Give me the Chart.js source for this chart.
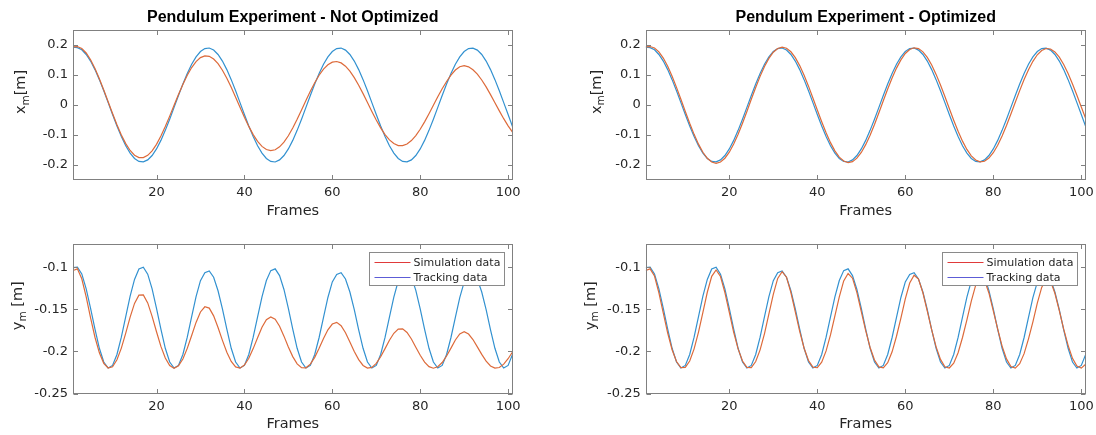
<!DOCTYPE html>
<html>
<head>
<meta charset="utf-8">
<script src="https://cdn.jsdelivr.net/npm/chart.js@4/dist/chart.umd.min.js"></script>
<style>
  html, body { margin: 0; padding: 0; background: #fff; }
  #fig { position: relative; width: 1096px; height: 435px; overflow: hidden; background: #fff; }
  #fig canvas { position: absolute; }
</style>
</head>
<body>
<div id="fig">
  <canvas id="xNotOpt" width="548" height="218" style="left:0;top:0"></canvas>
  <canvas id="xOpt" width="600" height="218" style="left:548px;top:0"></canvas>
  <canvas id="yNotOpt" width="548" height="217" style="left:0;top:218px"></canvas>
  <canvas id="yOpt" width="600" height="217" style="left:548px;top:218px"></canvas>
</div>
<script>
// Frame index 1..101
const frames = Array.from({ length: 101 }, (_, i) => i + 1);

// Tick positions and labels
const frameTicks = [20, 40, 60, 80, 100];
const xPosTicks = [-0.2, -0.1, 0, 0.1, 0.2];
const xPosTickLabels = ['-0.2', '-0.1', '0', '0.1', '0.2'];
const yPosTicks = [-0.25, -0.2, -0.15, -0.1];
const yPosTickLabels = ['-0.25', '-0.2', '-0.15', '-0.1'];

// Tracking data (measured pendulum position) [m]
const trackingX = [
  0.1930, 0.1910, 0.1840, 0.1684, 0.1464, 0.1180, 0.0845, 0.0473, 0.0080, -0.0317,
  -0.0699, -0.1051, -0.1358, -0.1604, -0.1781, -0.1880, -0.1896, -0.1830, -0.1684, -0.1464,
  -0.1180, -0.0845, -0.0473, -0.0080, 0.0317, 0.0699, 0.1051, 0.1358, 0.1604, 0.1781,
  0.1880, 0.1900, 0.1832, 0.1684, 0.1464, 0.1180, 0.0845, 0.0473, 0.0080, -0.0317,
  -0.0699, -0.1051, -0.1358, -0.1604, -0.1781, -0.1882, -0.1900, -0.1830, -0.1684, -0.1464,
  -0.1180, -0.0845, -0.0473, -0.0080, 0.0317, 0.0699, 0.1051, 0.1358, 0.1604, 0.1781,
  0.1880, 0.1898, 0.1830, 0.1684, 0.1464, 0.1180, 0.0845, 0.0473, 0.0080, -0.0317,
  -0.0699, -0.1051, -0.1358, -0.1604, -0.1781, -0.1880, -0.1896, -0.1830, -0.1684, -0.1464,
  -0.1180, -0.0845, -0.0473, -0.0080, 0.0317, 0.0699, 0.1051, 0.1358, 0.1604, 0.1781,
  0.1880, 0.1896, 0.1830, 0.1684, 0.1464, 0.1180, 0.0845, 0.0473, 0.0080, -0.0317,
  -0.0720
];
const trackingY = [
  -0.1005, -0.1000, -0.1080, -0.1258, -0.1488, -0.1737, -0.1963, -0.2126, -0.2198, -0.2167,
  -0.2037, -0.1832, -0.1587, -0.1345, -0.1146, -0.1022, -0.1000, -0.1083, -0.1258, -0.1488,
  -0.1737, -0.1963, -0.2126, -0.2198, -0.2167, -0.2037, -0.1832, -0.1587, -0.1350, -0.1160,
  -0.1066, -0.1045, -0.1120, -0.1280, -0.1495, -0.1737, -0.1963, -0.2126, -0.2198, -0.2167,
  -0.2037, -0.1832, -0.1590, -0.1352, -0.1158, -0.1041, -0.1020, -0.1100, -0.1265, -0.1490,
  -0.1737, -0.1963, -0.2126, -0.2198, -0.2167, -0.2037, -0.1835, -0.1595, -0.1360, -0.1175,
  -0.1086, -0.1065, -0.1140, -0.1295, -0.1505, -0.1745, -0.1963, -0.2126, -0.2198, -0.2167,
  -0.2037, -0.1834, -0.1592, -0.1355, -0.1165, -0.1056, -0.1035, -0.1115, -0.1275, -0.1495,
  -0.1740, -0.1963, -0.2126, -0.2198, -0.2167, -0.2037, -0.1835, -0.1597, -0.1362, -0.1178,
  -0.1086, -0.1065, -0.1140, -0.1295, -0.1505, -0.1745, -0.1963, -0.2126, -0.2198, -0.2167,
  -0.2037
];

// Simulation with initial parameters [m]
const simXNotOpt = [
  0.1935, 0.1949, 0.1883, 0.1734, 0.1509, 0.1218, 0.0878, 0.0502, 0.0109, -0.0284,
  -0.0658, -0.0998, -0.1287, -0.1516, -0.1672, -0.1751, -0.1752, -0.1677, -0.1527, -0.1311,
  -0.1036, -0.0718, -0.0371, -0.0009, 0.0349, 0.0687, 0.0992, 0.1249, 0.1448, 0.1579,
  0.1637, 0.1622, 0.1533, 0.1377, 0.1160, 0.0893, 0.0589, 0.0261, -0.0076, -0.0405,
  -0.0713, -0.0986, -0.1211, -0.1379, -0.1484, -0.1520, -0.1491, -0.1395, -0.1238, -0.1024,
  -0.0767, -0.0476, -0.0166, 0.0150, 0.0457, 0.0741, 0.0991, 0.1194, 0.1341, 0.1427,
  0.1449, 0.1403, 0.1295, 0.1130, 0.0914, 0.0661, 0.0379, 0.0082, -0.0215, -0.0501,
  -0.0761, -0.0985, -0.1163, -0.1286, -0.1351, -0.1355, -0.1299, -0.1186, -0.1019, -0.0808,
  -0.0561, -0.0290, -0.0007, 0.0274, 0.0542, 0.0784, 0.0997, 0.1166, 0.1275, 0.1311,
  0.1273, 0.1176, 0.1027, 0.0834, 0.0603, 0.0347, 0.0077, -0.0195, -0.0456, -0.0695,
  -0.0901
];
const simYNotOpt = [
  -0.1040, -0.1020, -0.1138, -0.1354, -0.1601, -0.1832, -0.2017, -0.2142, -0.2197, -0.2182,
  -0.2099, -0.1961, -0.1784, -0.1594, -0.1430, -0.1332, -0.1330, -0.1424, -0.1584, -0.1767,
  -0.1941, -0.2079, -0.2168, -0.2200, -0.2172, -0.2090, -0.1964, -0.1811, -0.1656, -0.1532,
  -0.1470, -0.1486, -0.1578, -0.1716, -0.1869, -0.2011, -0.2120, -0.2184, -0.2199, -0.2162,
  -0.2081, -0.1967, -0.1837, -0.1714, -0.1624, -0.1591, -0.1618, -0.1701, -0.1819, -0.1947,
  -0.2062, -0.2148, -0.2194, -0.2195, -0.2152, -0.2071, -0.1964, -0.1848, -0.1744, -0.1675,
  -0.1655, -0.1695, -0.1778, -0.1888, -0.2001, -0.2098, -0.2167, -0.2198, -0.2190, -0.2142,
  -0.2064, -0.1967, -0.1867, -0.1785, -0.1736, -0.1733, -0.1776, -0.1853, -0.1950, -0.2046,
  -0.2127, -0.2181, -0.2200, -0.2183, -0.2132, -0.2055, -0.1961, -0.1865, -0.1793, -0.1767,
  -0.1794, -0.1859, -0.1946, -0.2036, -0.2116, -0.2173, -0.2199, -0.2191, -0.2152, -0.2087,
  -0.2007
];

// Simulation with optimized parameters [m]
const simXOpt = [
  0.1935, 0.1949, 0.1902, 0.1771, 0.1564, 0.1290, 0.0959, 0.0588, 0.0191, -0.0215,
  -0.0610, -0.0979, -0.1305, -0.1575, -0.1776, -0.1900, -0.1942, -0.1899, -0.1774, -0.1573,
  -0.1303, -0.0977, -0.0608, -0.0214, 0.0190, 0.0585, 0.0954, 0.1282, 0.1555, 0.1758,
  0.1885, 0.1931, 0.1894, 0.1774, 0.1578, 0.1313, 0.0992, 0.0628, 0.0236, -0.0165,
  -0.0558, -0.0926, -0.1255, -0.1529, -0.1736, -0.1868, -0.1919, -0.1887, -0.1773, -0.1581,
  -0.1322, -0.1007, -0.0647, -0.0259, 0.0139, 0.0532, 0.0901, 0.1230, 0.1505, 0.1716,
  0.1852, 0.1907, 0.1881, 0.1772, 0.1587, 0.1333, 0.1021, 0.0666, 0.0281, -0.0114,
  -0.0506, -0.0874, -0.1205, -0.1481, -0.1695, -0.1835, -0.1895, -0.1874, -0.1770, -0.1590,
  -0.1341, -0.1034, -0.0684, -0.0303, 0.0090, 0.0480, 0.0848, 0.1178, 0.1457, 0.1674,
  0.1818, 0.1883, 0.1866, 0.1768, 0.1594, 0.1350, 0.1049, 0.0702, 0.0325, -0.0066,
  -0.0453
];
const simYOpt = [
  -0.1040, -0.1020, -0.1105, -0.1305, -0.1547, -0.1782, -0.1980, -0.2120, -0.2192, -0.2190,
  -0.2114, -0.1970, -0.1771, -0.1536, -0.1298, -0.1109, -0.1034, -0.1111, -0.1301, -0.1538,
  -0.1773, -0.1971, -0.2114, -0.2190, -0.2192, -0.2121, -0.1982, -0.1788, -0.1556, -0.1324,
  -0.1134, -0.1054, -0.1119, -0.1301, -0.1530, -0.1763, -0.1963, -0.2108, -0.2187, -0.2194,
  -0.2128, -0.1994, -0.1804, -0.1577, -0.1352, -0.1163, -0.1076, -0.1131, -0.1302, -0.1529,
  -0.1754, -0.1954, -0.2102, -0.2184, -0.2195, -0.2134, -0.2005, -0.1820, -0.1605, -0.1377,
  -0.1188, -0.1096, -0.1142, -0.1304, -0.1523, -0.1744, -0.1946, -0.2095, -0.2182, -0.2197,
  -0.2140, -0.2016, -0.1835, -0.1627, -0.1403, -0.1214, -0.1117, -0.1153, -0.1306, -0.1520,
  -0.1736, -0.1937, -0.2089, -0.2179, -0.2198, -0.2146, -0.2027, -0.1851, -0.1649, -0.1428,
  -0.1240, -0.1138, -0.1166, -0.1310, -0.1515, -0.1736, -0.1928, -0.2083, -0.2175, -0.2199,
  -0.2152
];

// Styling
const TITLE_FONT = '"Liberation Sans", Arial, Helvetica, sans-serif';
const FONT = '"DejaVu Sans", sans-serif';
const SIM_COLOR = '#dd6a3a';
const TRACK_COLOR = '#3291d0';
const SIM_KEY_COLOR = '#e03a3a';
const TRACK_KEY_COLOR = '#5c5cd6';
const AXIS_COLOR = '#808080';
const TEXT_COLOR = '#262626';

const pts = arr => arr.map((v, i) => ({ x: frames[i], y: v }));

// Axes box with inward ticks on all four sides, title, axis labels and legend
const decor = {
  id: 'decor',
  afterDraw(chart, args, o) {
    const { ctx, chartArea: a } = chart;
    const xs = chart.scales.x, ys = chart.scales.y;
    const L = Math.round(a.left) + 0.5, R = Math.round(a.right) - 0.5;
    const T = Math.round(a.top) + 0.5, B = Math.round(a.bottom) - 0.5;
    const cx = (a.left + a.right) / 2, cy = (a.top + a.bottom) / 2;
    ctx.save();

    if (o.legend) {
      ctx.font = `11px ${FONT}`;
      const entries = chart.data.datasets.map((d, i) => ({ text: d.label, color: o.legendColors[i] }));
      const tw = Math.max(...entries.map(e => ctx.measureText(e.text).width));
      const w = Math.round(44 + tw + 4), h = 33;
      const bx = Math.round(a.right - 8.5 - w) + 0.5, by = Math.round(a.top + 8) + 0.5;
      ctx.fillStyle = '#fff';
      ctx.fillRect(bx, by, w, h);
      ctx.strokeStyle = '#8a8a8a';
      ctx.lineWidth = 1;
      ctx.strokeRect(bx, by, w, h);
      entries.forEach((e, i) => {
        const ly = Math.round(by + 9 + i * 15.5) + 0.5;
        ctx.strokeStyle = e.color;
        ctx.beginPath(); ctx.moveTo(bx + 5, ly); ctx.lineTo(bx + 41, ly); ctx.stroke();
        ctx.fillStyle = TEXT_COLOR;
        ctx.textAlign = 'left'; ctx.textBaseline = 'middle';
        ctx.fillText(e.text, bx + 44, ly + 0.5);
      });
    }

    ctx.strokeStyle = AXIS_COLOR;
    ctx.lineWidth = 1;
    ctx.strokeRect(L, T, R - L, B - T);
    const tl = 4.5;
    ctx.beginPath();
    xs.ticks.forEach(t => {
      const px = Math.round(xs.getPixelForValue(t.value)) + 0.5;
      ctx.moveTo(px, B); ctx.lineTo(px, B - tl);
      ctx.moveTo(px, T); ctx.lineTo(px, T + tl);
    });
    ys.ticks.forEach(t => {
      const py = Math.round(ys.getPixelForValue(t.value)) + 0.5;
      ctx.moveTo(L, py); ctx.lineTo(L + tl, py);
      ctx.moveTo(R, py); ctx.lineTo(R - tl, py);
    });
    ctx.stroke();

    ctx.fillStyle = '#000';
    ctx.textAlign = 'center';
    ctx.textBaseline = 'middle';
    if (o.title) {
      ctx.font = `bold 16px ${TITLE_FONT}`;
      ctx.fillText(o.title, cx, a.top - 12);
    }
    ctx.fillStyle = TEXT_COLOR;
    ctx.font = `14.5px ${FONT}`;
    ctx.fillText('Frames', cx, a.bottom + 31);

    // y label with subscript, rotated
    ctx.translate(a.left - o.yLabelOffset, cy - 13);
    ctx.rotate(-Math.PI / 2);
    ctx.textAlign = 'left';
    ctx.textBaseline = 'alphabetic';
    const big = `14.5px ${FONT}`, small = `10.5px ${FONT}`;
    ctx.font = big;
    const w1 = ctx.measureText(o.yMain).width, w3 = ctx.measureText(o.yRest).width;
    ctx.font = small;
    const w2 = ctx.measureText(o.ySub).width;
    let x = -(w1 + w2 + w3) / 2;
    const base = 5;
    ctx.font = big; ctx.fillText(o.yMain, x, base); x += w1;
    ctx.font = small; ctx.fillText(o.ySub, x, base + 3.5); x += w2;
    ctx.font = big; ctx.fillText(o.yRest, x, base);
    ctx.restore();
  }
};

function buildChart(id, cfg) {
  return new Chart(document.getElementById(id), {
    type: 'line',
    data: {
      datasets: [
        { label: 'Simulation data', data: pts(cfg.sim), borderColor: SIM_COLOR, borderWidth: 1.2,
          pointRadius: 0, tension: 0, fill: false },
        { label: 'Tracking data', data: pts(cfg.track), borderColor: TRACK_COLOR, borderWidth: 1.2,
          pointRadius: 0, tension: 0, fill: false }
      ]
    },
    options: {
      responsive: false,
      animation: false,
      devicePixelRatio: 1,
      events: [],
      layout: { padding: { left: 0, top: cfg.padTop, right: cfg.padRight, bottom: 0 } },
      plugins: {
        legend: { display: false },
        tooltip: { enabled: false },
        decor: {
          title: cfg.title, legend: cfg.legend, legendColors: [SIM_KEY_COLOR, TRACK_KEY_COLOR],
          yMain: cfg.yMain, ySub: 'm', yRest: cfg.yRest, yLabelOffset: cfg.yLabelOffset
        }
      },
      scales: {
        x: {
          type: 'linear', min: 1, max: 101,
          grid: { display: false, drawTicks: false }, border: { display: false },
          afterBuildTicks: s => { s.ticks = frameTicks.map(v => ({ value: v })); },
          afterFit: s => { s.height = cfg.xAxisH; },
          ticks: { padding: cfg.xTickPad, color: TEXT_COLOR, font: { family: FONT, size: 13 },
                   maxRotation: 0, autoSkip: false, callback: v => String(v) }
        },
        y: {
          type: 'linear', min: cfg.yMin, max: cfg.yMax,
          grid: { display: false, drawTicks: false }, border: { display: false },
          afterBuildTicks: s => { s.ticks = cfg.yTicks.map(v => ({ value: v })); },
          afterFit: s => { s.width = cfg.yAxisW; },
          ticks: { padding: 5, color: TEXT_COLOR, font: { family: FONT, size: 13 },
                   autoSkip: false, callback: (v, i) => cfg.yTickLabels[i] }
        }
      }
    },
    plugins: [decor]
  });
}

buildChart('xNotOpt', {
  sim: simXNotOpt, track: trackingX, title: 'Pendulum Experiment - Not Optimized',
  yMin: -0.25, yMax: 0.25, yTicks: xPosTicks, yTickLabels: xPosTickLabels,
  yMain: 'x', yRest: '[m]', yLabelOffset: 53, legend: false,
  padTop: 30, padRight: 35.5, yAxisW: 73, xAxisH: 38, xTickPad: 5
});
buildChart('xOpt', {
  sim: simXOpt, track: trackingX, title: 'Pendulum Experiment - Optimized',
  yMin: -0.25, yMax: 0.25, yTicks: xPosTicks, yTickLabels: xPosTickLabels,
  yMain: 'x', yRest: '[m]', yLabelOffset: 50, legend: false,
  padTop: 30, padRight: 62.3, yAxisW: 97.7, xAxisH: 38, xTickPad: 5
});
buildChart('yNotOpt', {
  sim: simYNotOpt, track: trackingY, title: null,
  yMin: -0.25, yMax: -0.0725, yTicks: yPosTicks, yTickLabels: yPosTickLabels,
  yMain: 'y', yRest: ' [m]', yLabelOffset: 56, legend: true,
  padTop: 26, padRight: 35.5, yAxisW: 73, xAxisH: 41.5, xTickPad: 5.5
});
buildChart('yOpt', {
  sim: simYOpt, track: trackingY, title: null,
  yMin: -0.25, yMax: -0.0725, yTicks: yPosTicks, yTickLabels: yPosTickLabels,
  yMain: 'y', yRest: ' [m]', yLabelOffset: 56, legend: true,
  padTop: 26, padRight: 62.3, yAxisW: 97.7, xAxisH: 41.5, xTickPad: 5.5
});
</script>
</body>
</html>
